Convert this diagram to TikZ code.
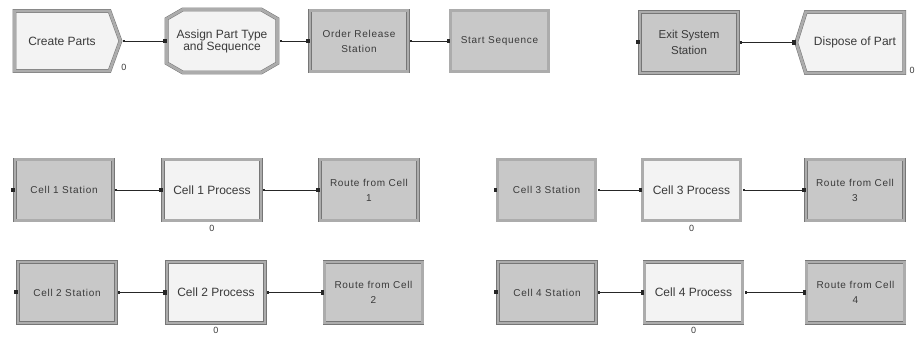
\documentclass[tikz,border=0pt]{standalone}
\usepackage{fontspec}
\setmainfont{Liberation Sans}
\newfontfamily\spacedfont[LetterSpace=7]{Liberation Sans}
\usetikzlibrary{positioning,arrows.meta,shapes.symbols,shapes.misc}
\definecolor{facegray}{RGB}{200,200,200}
\definecolor{facewhite}{RGB}{243,243,243}
\definecolor{bevlight}{RGB}{172,172,172}
\definecolor{bevdark}{RGB}{118,118,118}
\definecolor{inkgray}{RGB}{58,58,58}
\tikzset{
  module/.style={draw=bevdark,double=bevlight,double distance=2.8pt,line width=0.5pt,inner sep=1pt,align=center,text=inkgray},
  grybox/.style={module,rectangle,fill=facegray,minimum width=98pt,minimum height=61pt,font=\spacedfont\fontsize{10}{15}\selectfont},
  whtbox/.style={module,rectangle,fill=facewhite,minimum width=98pt,minimum height=61pt,font=\fontsize{12}{12}\selectfont},
  crtbox/.style={module,signal,signal to=east,signal pointer angle=140,fill=facewhite,minimum width=106pt,minimum height=60pt,font=\fontsize{12}{12}\selectfont},
  dspbox/.style={module,signal,signal to=west,signal pointer angle=145,fill=facewhite,minimum width=108pt,minimum height=61pt,font=\fontsize{12}{12}\selectfont},
  asgbox/.style={module,chamfered rectangle,chamfered rectangle angle=60,chamfered rectangle xsep=10pt,fill=facewhite,minimum width=104pt,minimum height=63pt,inner sep=0pt,font=\fontsize{12}{12}\selectfont},
  flow/.style={line width=0.8pt,draw=black!85,{Square[length=2pt,width=2pt]}-{Square[length=3.5pt,width=4pt]},shorten <=2pt},
  inport/.style={fill=black!85,inner sep=0pt,minimum width=3.5pt,minimum height=4pt},
  zlab/.style={font=\fontsize{9}{9}\selectfont,text=inkgray,inner sep=1pt}
}
\begin{document}
\begin{tikzpicture}[x=1pt,y=-1pt]
  \useasboundingbox (0,0) rectangle (922,339);
  % top row
  \node[crtbox] (cp) at (62,41) {Create Parts};
  \node[asgbox] (as) at (222,41) {Assign Part Type\\and Sequence};
  \node[grybox] (orl) at (359,41) {Order Release\\Station};
  \node[grybox] (ss) at (499.5,41) {Start Sequence};
  \node[grybox,font=\fontsize{11.5}{16}\selectfont] (ex) at (689,42.5) {Exit System\\Station};
  \node[dspbox] (dp) at (855,42.5) {Dispose of Part};
  \node[zlab] at (124,67) {0};
  \node[zlab] at (912,70) {0};
  % cells 1 and 2
  \node[grybox] (s1) at (64,190) {Cell 1 Station};
  \node[whtbox] (p1) at (212,190) {Cell 1 Process};
  \node[grybox] (r1) at (369,190) {Route from Cell\\1};
  \node[grybox] (s2) at (67,292.5) {Cell 2 Station};
  \node[whtbox] (p2) at (216,292.5) {Cell 2 Process};
  \node[grybox] (r2) at (373.5,292.5) {Route from Cell\\2};
  % cells 3 and 4
  \node[grybox] (s3) at (546.5,190) {Cell 3 Station};
  \node[whtbox] (p3) at (691.5,190) {Cell 3 Process};
  \node[grybox] (r3) at (855,190) {Route from Cell\\3};
  \node[grybox] (s4) at (547,292.5) {Cell 4 Station};
  \node[whtbox] (p4) at (693.5,292.5) {Cell 4 Process};
  \node[grybox] (r4) at (855.5,292.5) {Route from Cell\\4};
  % queue counters
  \node[zlab,below=3pt of p1] {0};
  \node[zlab,below=3pt of p2] {0};
  \node[zlab,below=3pt of p3] {0};
  \node[zlab,below=3pt of p4] {0};
  % open entry points
  \node[inport,left=0pt of ex] {};
  \node[inport,left=0pt of s1] {};
  \node[inport,left=0pt of s2] {};
  \node[inport,left=0pt of s3] {};
  \node[inport,left=0pt of s4] {};
  % connections
  \draw[flow] (cp.east) -- (as.west);
  \draw[flow] (as.east) -- (orl.west);
  \draw[flow] (orl.east) -- (ss.west);
  \draw[flow] (ex.east) -- (dp.west);
  \draw[flow] (s1.east) -- (p1.west);
  \draw[flow] (p1.east) -- (r1.west);
  \draw[flow] (s2.east) -- (p2.west);
  \draw[flow] (p2.east) -- (r2.west);
  \draw[flow] (s3.east) -- (p3.west);
  \draw[flow] (p3.east) -- (r3.west);
  \draw[flow] (s4.east) -- (p4.west);
  \draw[flow] (p4.east) -- (r4.west);
\end{tikzpicture}
\end{document}
